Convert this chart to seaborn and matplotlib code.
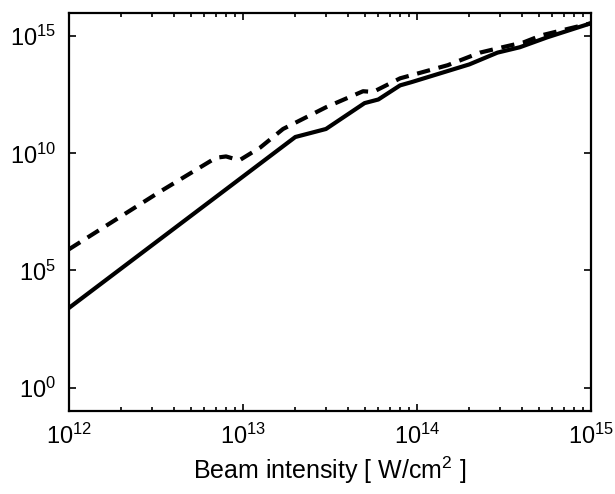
import numpy as np
import pandas as pd
import matplotlib
matplotlib.use("Agg")
import matplotlib.pyplot as plt
import matplotlib.ticker as mticker
import seaborn as sns

# Solid curve
solid_x = [1e12, 2.0e13, 3.0e13, 5.0e13, 6.0e13, 8.0e13, 9.3e13, 2.0e14, 2.9e14, 3.9e14, 5.6e14, 1e15]
solid_y = [2.5e3, 5.0e10, 1.1e11, 1.4e12, 2.0e12, 8.0e12, 1.1e13, 6.3e13, 2.0e14, 3.4e14, 9.0e14, 3.6e15]

# Dashed curve
dash_x = [1e12, 3.3e12, 7.0e12, 8.0e12, 8.8e12, 9.6e12, 1.26e13, 1.7e13, 3.0e13, 4.9e13, 5.6e13,
          8.0e13, 1.5e14, 2.3e14, 3.1e14, 4.1e14, 5.2e14, 1e15]
dash_y = [8.0e5, 2.2e8, 6.5e9, 7.4e9, 6.0e9, 5.2e9, 1.8e10, 1.1e11, 9.3e11, 4.5e12, 4.2e12,
          1.6e13, 5.8e13, 2.0e14, 3.4e14, 5.5e14, 1.1e15, 3.6e15]

x_ticks = [1e12, 1e13, 1e14, 1e15]
y_ticks = [1e0, 1e5, 1e10, 1e15]

sns.set_style("ticks")
plt.rcParams["font.family"] = ["Liberation Sans", "DejaVu Sans"]
plt.rcParams["mathtext.fontset"] = "custom"
plt.rcParams["mathtext.rm"] = "Liberation Sans"
plt.rcParams["mathtext.it"] = "Liberation Sans:italic"
plt.rcParams["text.color"] = "black"
plt.rcParams["axes.labelcolor"] = "black"
plt.rcParams["xtick.color"] = "black"
plt.rcParams["ytick.color"] = "black"
plt.rcParams["axes.edgecolor"] = "black"

fig = plt.figure(figsize=(6.15, 4.94), dpi=100)
ax = fig.add_axes([0.112, 0.168, 0.849, 0.806])

df_s = pd.DataFrame({"x": solid_x, "y": solid_y})
df_d = pd.DataFrame({"x": dash_x, "y": dash_y})
sns.lineplot(data=df_s, x="x", y="y", ax=ax, color="black", lw=3.0)
sns.lineplot(data=df_d, x="x", y="y", ax=ax, color="black", lw=3.0)
ax.lines[-1].set_dashes((3.2, 2.1))

ax.set_xscale("log")
ax.set_yscale("log")
ax.set_xlim(1e12, 1e15)
ax.set_ylim(1e-1, 1e16)
ax.set_xticks(x_ticks)
ax.set_yticks(y_ticks)
ax.yaxis.set_minor_locator(mticker.NullLocator())
ax.xaxis.set_minor_locator(mticker.LogLocator(base=10, subs=np.arange(2, 10)))
ax.xaxis.set_minor_formatter(mticker.NullFormatter())

ax.tick_params(which="both", direction="in", top=True, right=True, width=1.2)
ax.tick_params(which="major", length=5, labelsize=17, pad=9)
ax.tick_params(which="minor", length=3)
for s in ax.spines.values():
    s.set_linewidth(1.6)

ax.set_xlabel("Beam intensity [ W/cm$^2$ ]", fontsize=18, labelpad=4)
ax.set_ylabel("")

fig.savefig("out.png", dpi=100, facecolor="white")
